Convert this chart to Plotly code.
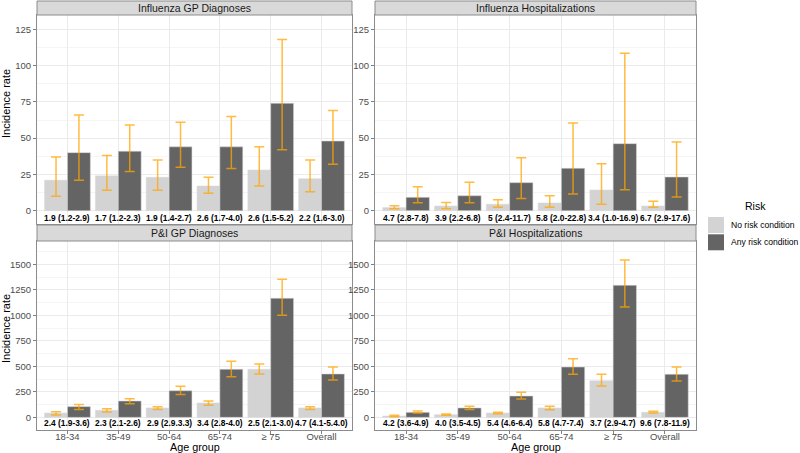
import plotly.graph_objects as go

# ---------------- data ----------------
age_groups = ["18-34", "35-49", "50-64", "65-74", "≥ 75", "Overall"]
risk_groups = ["No risk condition", "Any risk condition"]
panel_titles = ["Influenza GP Diagnoses", "Influenza Hospitalizations",
                "P&I GP Diagnoses", "P&I Hospitalizations"]

# Influenza GP Diagnoses
flu_gp_no = [21, 24, 23, 17, 28, 22]
flu_gp_no_lo = [10, 14, 14, 12, 17, 13]
flu_gp_no_hi = [37, 38, 35, 23, 44, 35]
flu_gp_any = [40, 41, 44, 44, 74, 48]
flu_gp_any_lo = [21, 27, 30, 29, 42, 32]
flu_gp_any_hi = [66, 59, 61, 65, 118, 69]
flu_gp_irr = ["1.9 (1.2-2.9)", "1.7 (1.2-2.3)", "1.9 (1.4-2.7)",
              "2.6 (1.7-4.0)", "2.6 (1.5-5.2)", "2.2 (1.6-3.0)"]

# Influenza Hospitalizations
flu_hosp_no = [2.1, 3.2, 4.4, 5.3, 14.2, 3.2]
flu_hosp_no_lo = [1.3, 1.4, 2.3, 2.3, 4.4, 2.3]
flu_hosp_no_hi = [3.4, 5.7, 7.6, 10.3, 32.4, 6.4]
flu_hosp_any = [9.2, 10.3, 19.3, 29.2, 46.2, 23.2]
flu_hosp_any_lo = [5.5, 5.5, 8.3, 11.5, 14.5, 9.4]
flu_hosp_any_hi = [16.5, 19.5, 36.5, 60.4, 108.5, 47.3]
flu_hosp_irr = ["4.7 (2.8-7.8)", "3.9 (2.2-6.8)", "5 (2.4-11.7)",
                "5.8 (2.0-22.8)", "3.4 (1.0-16.9)", "6.7 (2.9-17.6)"]

# P&I GP Diagnoses
pi_gp_no = [42, 69, 92, 141, 471, 92]
pi_gp_no_lo = [23, 52, 78, 118, 425, 78]
pi_gp_no_hi = [56, 85, 105, 160, 523, 105]
pi_gp_any = [105, 160, 261, 471, 1167, 425]
pi_gp_any_lo = [78, 134, 225, 399, 1000, 366]
pi_gp_any_hi = [127, 183, 304, 549, 1353, 493]
pi_gp_irr = ["2.4 (1.9-3.6)", "2.3 (2.1-2.6)", "2.9 (2.9.3.3)",
             "3.4 (2.8-4.0)", "2.5 (2.1-3.0)", "4.7 (4.1-5.4.0)"]

# P&I Hospitalizations
pi_hosp_no = [13, 26, 42, 92, 359, 49]
pi_hosp_no_lo = [7, 20, 36, 75, 307, 42]
pi_hosp_no_hi = [20, 33, 49, 108, 422, 59]
pi_hosp_any = [49, 92, 209, 493, 1294, 422]
pi_hosp_any_lo = [42, 78, 180, 422, 1082, 356]
pi_hosp_any_hi = [62, 108, 245, 575, 1542, 493]
pi_hosp_irr = ["4.2 (3.6-4.9)", "4.0 (3.5-4.5)", "5.4 (4.6-6.4)",
               "5.8 (4.7-7.4)", "3.7 (2.9-4.7)", "9.6 (7.8-11.9)"]

top_ticks = [0, 25, 50, 75, 100, 125]
bottom_ticks = [0, 250, 500, 750, 1000, 1250, 1500]

# ---------------- styling / layout ----------------
W, H = 800, 453
FONT = "Liberation Sans, Arial, Helvetica, sans-serif"
LIGHT = "#D3D3D3"
DARK = "#646464"
ERR = "rgba(255,165,0,0.75)"
BORDER = "#8C8C8C"
GRID = "#EBEBEB"
MINOR = "#F5F5F5"

def px_x(p):
    return p / W

def px_y(p):
    return 1 - p / H

col_px = [(37, 352), (375, 696)]
row_px = [(15, 224), (241, 430)]
strip_px = [(1, 15), (225, 241)]

panels = [
    (flu_gp_no, flu_gp_no_lo, flu_gp_no_hi, flu_gp_any, flu_gp_any_lo, flu_gp_any_hi, flu_gp_irr),
    (flu_hosp_no, flu_hosp_no_lo, flu_hosp_no_hi, flu_hosp_any, flu_hosp_any_lo, flu_hosp_any_hi, flu_hosp_irr),
    (pi_gp_no, pi_gp_no_lo, pi_gp_no_hi, pi_gp_any, pi_gp_any_lo, pi_gp_any_hi, pi_gp_irr),
    (pi_hosp_no, pi_hosp_no_lo, pi_hosp_no_hi, pi_hosp_any, pi_hosp_any_lo, pi_hosp_any_hi, pi_hosp_irr),
]
y_ranges = [[-9.2, 134.9], [-9.2, 134.9], [-124, 1728], [-124, 1728]]
label_y = [-5.2, -5.2, -59, -59]

fig = go.Figure()
shapes = []
annotations = []

for i, (no, no_lo, no_hi, anyv, any_lo, any_hi, irr) in enumerate(panels):
    r, c = divmod(i, 2)
    sfx = "" if i == 0 else str(i + 1)
    xa, ya = "x" + sfx, "y" + sfx
    for name, vals, lo, hi, color in [
        (risk_groups[0], no, no_lo, no_hi, LIGHT),
        (risk_groups[1], anyv, any_lo, any_hi, DARK),
    ]:
        fig.add_trace(go.Bar(
            x=age_groups, y=vals, name=name, xaxis=xa, yaxis=ya,
            marker=dict(color=color, line=dict(color="rgba(215,215,215,0.9)", width=0.6)),
            offsetgroup=name,
            error_y=dict(type="data", symmetric=False,
                         array=[h - v for h, v in zip(hi, vals)],
                         arrayminus=[v - l for v, l in zip(vals, lo)],
                         color=ERR, thickness=1.5, width=5),
            showlegend=False, hoverinfo="skip",
        ))
    # ratio labels
    for cat, txt in zip(age_groups, irr):
        annotations.append(dict(x=cat, y=label_y[i], xref=xa, yref=ya, text="<b>" + txt + "</b>",
                                showarrow=False, font=dict(family=FONT, size=8.4, color="black"),
                                xanchor="center", yanchor="middle"))
    x0, x1 = col_px[c]
    y0, y1 = row_px[r]
    ticks = top_ticks if r == 0 else bottom_ticks
    axis_key = "xaxis" + sfx
    yaxis_key = "yaxis" + sfx
    fig.update_layout(**{
        axis_key: dict(domain=[px_x(x0), px_x(x1)], anchor=ya, type="category",
                       categoryorder="array", categoryarray=age_groups,
                       range=[-0.6, 5.6], showgrid=True, gridcolor=GRID, gridwidth=1,
                       showline=True, mirror=True, linecolor=BORDER, linewidth=1,
                       ticks="outside" if r == 1 else "", ticklen=3, tickcolor="#7F7F7F",
                       showticklabels=(r == 1), ticklabelstandoff=-5,
                       tickfont=dict(family=FONT, size=9.5, color="#4D4D4D"),
                       zeroline=False, fixedrange=True),
        yaxis_key: dict(domain=[px_y(y1), px_y(y0)], anchor=xa, range=y_ranges[i],
                        tickvals=ticks, showgrid=True, gridcolor=GRID, gridwidth=1,
                        minor=dict(dtick=(ticks[1] - ticks[0]) / 2, tick0=0, showgrid=True,
                                   gridcolor=MINOR, gridwidth=0.5),
                        showline=True, mirror=True, linecolor=BORDER, linewidth=1,
                        ticks="outside", ticklen=3, tickcolor="#7F7F7F",
                        tickfont=dict(family=FONT, size=9.5, color="#4D4D4D"),
                        zeroline=False, fixedrange=True),
    })
    # strip
    s0, s1 = strip_px[r]
    shapes.append(dict(type="rect", xref="paper", yref="paper",
                       x0=px_x(x0), x1=px_x(x1), y0=px_y(s1), y1=px_y(s0),
                       fillcolor="#D9D9D9", line=dict(color=BORDER, width=1), layer="above"))
    annotations.append(dict(x=px_x((x0 + x1) / 2), y=px_y((s0 + s1) / 2), xref="paper", yref="paper",
                            text=panel_titles[i], showarrow=False,
                            font=dict(family=FONT, size=10.5, color="#1A1A1A"),
                            xanchor="center", yanchor="middle"))
    if r == 1:
        annotations.append(dict(x=px_x((x0 + x1) / 2), y=px_y(447), xref="paper", yref="paper",
                                text="Age group", showarrow=False,
                                font=dict(family=FONT, size=10.8, color="black"),
                                xanchor="center", yanchor="middle"))
    if c == 0:
        annotations.append(dict(x=px_x(6), y=px_y(104 if r == 0 else 329), xref="paper", yref="paper",
                                text="Incidence rate", showarrow=False, textangle=-90,
                                font=dict(family=FONT, size=11, color="black"),
                                xanchor="center", yanchor="middle"))

# custom legend
annotations.append(dict(x=px_x(743), y=px_y(206), xref="paper", yref="paper", text="Risk",
                        showarrow=False, font=dict(family=FONT, size=10.5, color="black"),
                        xanchor="left", yanchor="middle"))
for k, (name, color) in enumerate(zip(risk_groups, [LIGHT, DARK])):
    top = 217 + k * 17.3
    shapes.append(dict(type="rect", xref="paper", yref="paper",
                       x0=px_x(708), x1=px_x(724), y0=px_y(top + 16), y1=px_y(top),
                       fillcolor=color, line=dict(width=0)))
    annotations.append(dict(x=px_x(729), y=px_y(top + 8), xref="paper", yref="paper", text=name,
                            showarrow=False, font=dict(family=FONT, size=8.6, color="black"),
                            xanchor="left", yanchor="middle"))

fig.update_layout(
    width=W, height=H, margin=dict(l=0, r=0, t=0, b=0),
    paper_bgcolor="white", plot_bgcolor="white",
    barmode="group", bargap=0.1, bargroupgap=0,
    shapes=shapes, annotations=annotations, showlegend=False,
    font=dict(family=FONT), hovermode=False,
)

fig.write_html("out.html", config={"displayModeBar": False},
               post_script="document.body.style.margin='0';document.body.style.overflow='hidden';")
